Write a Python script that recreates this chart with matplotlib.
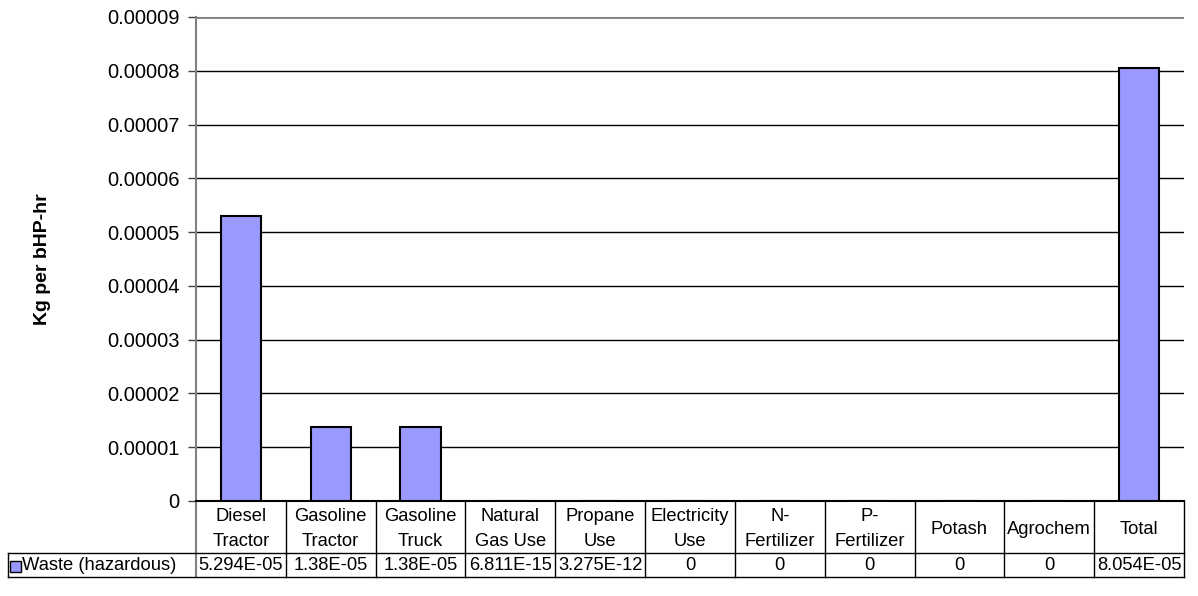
import numpy as np
import matplotlib.pyplot as plt
import matplotlib.transforms as mtransforms

plt.rcParams['font.family'] = ['Liberation Sans', 'DejaVu Sans']

categories = ['Diesel\nTractor', 'Gasoline\nTractor', 'Gasoline\nTruck', 'Natural\nGas Use',
              'Propane\nUse', 'Electricity\nUse', 'N-\nFertilizer', 'P-\nFertilizer',
              'Potash', 'Agrochem', 'Total']
values = [5.294e-05, 1.38e-05, 1.38e-05, 6.811e-15, 3.275e-12, 0, 0, 0, 0, 0, 8.054e-05]
value_labels = ['5.294E-05', '1.38E-05', '1.38E-05', '6.811E-15', '3.275E-12',
                '0', '0', '0', '0', '0', '8.054E-05']
series_name = 'Waste (hazardous)'
yticks = np.arange(0, 0.0000901, 0.00001)
ytick_labels = ['0', '0.00001', '0.00002', '0.00003', '0.00004', '0.00005',
                '0.00006', '0.00007', '0.00008', '0.00009']

W, H = 1198, 596
fig = plt.figure(figsize=(W / 100, H / 100), dpi=100)
left, right, top, bottom = 196, 1184, 17, 501
ax = fig.add_axes([left / W, 1 - bottom / H, (right - left) / W, (bottom - top) / H])

bar_color = '#9999FF'
x = np.arange(len(categories))
ax.bar(x, values, width=0.45, color=bar_color, edgecolor='black', linewidth=1.5, zorder=3)

ax.set_xlim(-0.5, len(categories) - 0.5)
ax.set_ylim(0, 0.00009)
ax.set_yticks(yticks)
ax.set_yticklabels(ytick_labels, fontsize=14.5)
ax.set_xticks([])
ax.tick_params(axis='y', length=6, width=1, color='#404040', pad=6)
for yv in yticks[1:-1]:
    ax.axhline(yv, color='black', linewidth=1, zorder=1)
ax.axhline(yticks[-1], color='#808080', linewidth=2, zorder=1)

for side in ['top', 'right']:
    ax.spines[side].set_visible(False)
ax.spines['left'].set_color('#808080')
ax.spines['left'].set_linewidth(1.5)
ax.spines['bottom'].set_color('black')
ax.spines['bottom'].set_linewidth(1.5)

ax.set_ylabel('Kg per bHP-hr', fontsize=14, fontweight='bold', labelpad=40)

# data table under the axis
px = 1.0 / (bottom - top)
head_bot = -(553 - bottom) * px
row_bot = -(577 - bottom) * px
legend_left = (8 - left) / (right - left)
trans = mtransforms.blended_transform_factory(ax.transData, ax.transAxes)

line_kw = dict(color='black', linewidth=1, clip_on=False)
for i in range(len(categories) + 1):
    xv = i - 0.5
    col = '#808080' if i == 0 else 'black'
    ax.plot([xv, xv], [0, row_bot], transform=trans, color=col,
            linewidth=1.5 if i == 0 else 1, clip_on=False)
ax.plot([legend_left, 1], [head_bot, head_bot], transform=ax.transAxes, **line_kw)
ax.plot([legend_left, 1], [row_bot, row_bot], transform=ax.transAxes, **line_kw)
ax.plot([legend_left, legend_left], [head_bot, row_bot], transform=ax.transAxes, **line_kw)

head_mid = -(529 - bottom) * px
for i, (cat, lab) in enumerate(zip(categories, value_labels)):
    ax.text(i, head_mid, cat, transform=trans, ha='center', va='center',
            fontsize=13.2, linespacing=1.6)
    ax.text(i, (head_bot + row_bot) / 2, lab, transform=trans, ha='center',
            va='center', fontsize=13.2)

# legend key and series name
key_y = (head_bot + row_bot) / 2
fig.patches.append(plt.Rectangle((10 / W, 1 - 572 / H), 11 / W, 11 / H,
                                 facecolor=bar_color, edgecolor='black',
                                 linewidth=1, transform=fig.transFigure))
ax.text((22 - left) / (right - left), key_y, series_name, transform=ax.transAxes,
        ha='left', va='center', fontsize=13.2)

fig.savefig('out.png', dpi=100)
